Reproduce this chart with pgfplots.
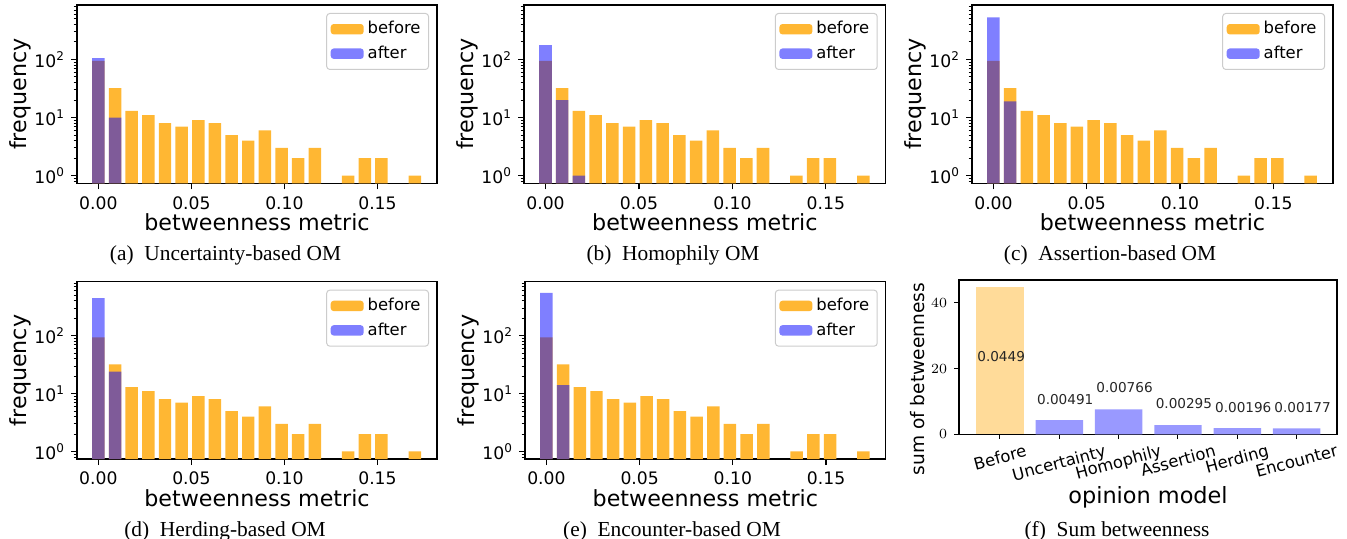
\documentclass[border=0pt]{standalone}
\usepackage{fontspec}
\setmainfont{DejaVu Sans}
\newfontfamily\capfont{Liberation Serif}
\usepackage{graphicx}
\usepackage{pgfplots}
\usepackage{pgfplotstable}
\pgfplotsset{compat=1.18}

\definecolor{beforec}{HTML}{FFB733}
\definecolor{beforelight}{HTML}{FFDB99}
\definecolor{afterlight}{HTML}{9999FF}

\newcommand{\dec}[1]{10\raisebox{0.42em}{\fontsize{6}{7}\selectfont #1}}
\newcommand{\subcap}[1]{\capfont\fontsize{10.7}{12}\selectfont #1}

% histogram counts per bin (bin width 0.00895, empty bins left out)
\pgfplotstableread{
x y
0 94
0.00895 32
0.0179 13
0.02685 11
0.0358 8
0.04475 7
0.0537 9
0.06265 8
0.0716 5
0.08055 4
0.0895 6
0.09845 3
0.1074 2
0.11635 3
0.13425 1
0.1432 2
0.15215 2
0.17005 1
}\beforetab

\pgfplotsset{
  patchlegend/.style={legend image code/.code={\fill[##1] (0pt,-2.6pt) rectangle (16.5pt,2.6pt);}},
  beforebar/.style={ybar, bar width=0.0067, bar shift=0pt, fill=beforec, draw=none, patchlegend},
  afterbar/.style={ybar, bar width=0.0067, bar shift=0pt, fill=blue, fill opacity=0.5, draw=none, patchlegend},
  histax/.style={
    scale only axis, anchor=south west,
    xmin=-0.0115, xmax=0.182, ymin=0.74, ymax=860,
    xtick={0,0.05,0.1,0.15}, xticklabels={0.00,0.05,0.10,0.15},
    ytick={1,10,100}, yticklabels={\dec{0},\dec{1},\dec{2}},
    minor ytick={0.8,0.9,2,3,4,5,6,7,8,9,20,30,40,50,60,70,80,90,200,300,400,500,600,700,800},
    tick align=outside, xtick pos=left, ytick pos=left,
    major tick length=3pt, minor tick length=1.7pt,
    every tick/.style={black, line width=0.6pt},
    minor tick style={line width=0.45pt},
    axis line style={black, line width=0.68pt},
    ticklabel style={font=\fontsize{8.6}{10}\selectfont},
    xlabel={betweenness metric}, ylabel={frequency},
    every axis x label/.style={at={([yshift=-19.5pt]rel axis cs:0.5,0)}, anchor=center, font=\fontsize{11.1}{13}\selectfont},
    every axis y label/.style={at={([xshift=-28.5pt]rel axis cs:0,0.5)}, rotate=90, anchor=center, font=\fontsize{11.1}{13}\selectfont},
    legend style={at={(rel axis cs:1,1)}, anchor=north east, xshift=-4pt, yshift=-4pt,
      draw=black!20, line width=0.5pt, rounded corners=1.5pt, fill=white,
      font=\fontsize{8.2}{9.8}\selectfont, inner xsep=2pt, inner ysep=2pt, row sep=0.5pt},
    legend cell align=left,
  },
}

\begin{document}
\begin{tikzpicture}
\path[use as bounding box] (0,0) rectangle (673.5pt,-269.5pt);

% (a)
\begin{semilogyaxis}[histax, log origin=infty, at={(38.5pt,-91.65pt)}, width=180pt, height=89.15pt]
\addplot[beforebar] table {\beforetab};
\addplot[afterbar] coordinates {(0,105) (0.00895,10)};
\legend{before,after}
\end{semilogyaxis}

% (b)
\begin{semilogyaxis}[histax, log origin=infty, at={(262pt,-91.65pt)}, width=180.85pt, height=89.15pt]
\addplot[beforebar] table {\beforetab};
\addplot[afterbar] coordinates {(0,176) (0.00895,20) (0.0179,1)};
\legend{before,after}
\end{semilogyaxis}

% (c)
\begin{semilogyaxis}[histax, log origin=infty, at={(486pt,-91.65pt)}, width=180.5pt, height=89.15pt]
\addplot[beforebar] table {\beforetab};
\addplot[afterbar] coordinates {(0,527) (0.00895,19)};
\legend{before,after}
\end{semilogyaxis}

% (d)
\begin{semilogyaxis}[histax, log origin=infty, at={(38.5pt,-229.5pt)}, width=180pt, height=88.65pt]
\addplot[beforebar] table {\beforetab};
\addplot[afterbar] coordinates {(0,446) (0.00895,24)};
\legend{before,after}
\end{semilogyaxis}

% (e)
\begin{semilogyaxis}[histax, log origin=infty, at={(262.5pt,-229.5pt)}, width=180.35pt, height=88.65pt]
\addplot[beforebar] table {\beforetab};
\addplot[afterbar] coordinates {(0,551) (0.00895,14)};
\legend{before,after}
\end{semilogyaxis}

% (f)
\begin{axis}[
  scale only axis, anchor=south west, at={(479.5pt,-217.15pt)},
  width=189pt, height=77.15pt,
  xmin=-0.69, xmax=5.68, ymin=0, ymax=47,
  ytick={0,20,40},
  xtick={0,1,2,3,4,5},
  xticklabels={\rotatebox{15}{Before},\rotatebox{15}{Uncertainty},\rotatebox{15}{Homophily},\rotatebox{15}{Assertion},\rotatebox{15}{Herding},\rotatebox{15}{Encounter}},
  tick align=outside, xtick pos=left, ytick pos=left,
  major tick length=2.45pt,
  every tick/.style={black, line width=0.5pt},
  axis line style={black, line width=0.55pt},
  yticklabel style={font=\fontsize{7}{8}\selectfont},
  xticklabel style={font=\fontsize{8.2}{9.5}\selectfont, anchor=north, yshift=1pt},
  xlabel={opinion model}, ylabel={sum of betweenness},
  every axis x label/.style={at={([yshift=-31.5pt]rel axis cs:0.5,0)}, anchor=center, font=\fontsize{11.2}{13}\selectfont},
  every axis y label/.style={at={([xshift=-20.5pt,yshift=-11pt]rel axis cs:0,0.5)}, rotate=90, anchor=center, font=\fontsize{9.3}{11}\selectfont},
]
\addplot[ybar, bar width=0.8, bar shift=0pt, fill=beforelight, draw=none] coordinates {(0,45)};
\addplot[ybar, bar width=0.8, bar shift=0pt, fill=afterlight, draw=none] coordinates {(1,4.3) (2,7.6) (3,2.8) (4,1.85) (5,1.8)};
\begin{scope}[every node/.style={font=\fontsize{6.8}{8}\selectfont, text=black!85}]
\node at (axis cs:0.02,23.8) {0.0449};
\node at (axis cs:1.1,10.6) {0.00491};
\node at (axis cs:2.1,14.2) {0.00766};
\node at (axis cs:3.1,9.35) {0.00295};
\node at (axis cs:4.1,8.3) {0.00196};
\node at (axis cs:5.1,8.3) {0.00177};
\end{scope}
\end{axis}

% captions
\node[anchor=base] at (112.75pt,-130.5pt) {\subcap{(a)\hspace{0.5em}Uncertainty-based OM}};
\node[anchor=base] at (336.5pt,-130.5pt) {\subcap{(b)\hspace{0.5em}Homophily OM}};
\node[anchor=base] at (555pt,-130.5pt) {\subcap{(c)\hspace{0.5em}Assertion-based OM}};
\node[anchor=base] at (112.5pt,-268pt) {\subcap{(d)\hspace{0.5em}Herding-based OM}};
\node[anchor=base] at (336pt,-268pt) {\subcap{(e)\hspace{0.5em}Encounter-based OM}};
\node[anchor=base] at (558.5pt,-268pt) {\subcap{(f)\hspace{0.5em}Sum betweenness}};
\end{tikzpicture}
\end{document}
